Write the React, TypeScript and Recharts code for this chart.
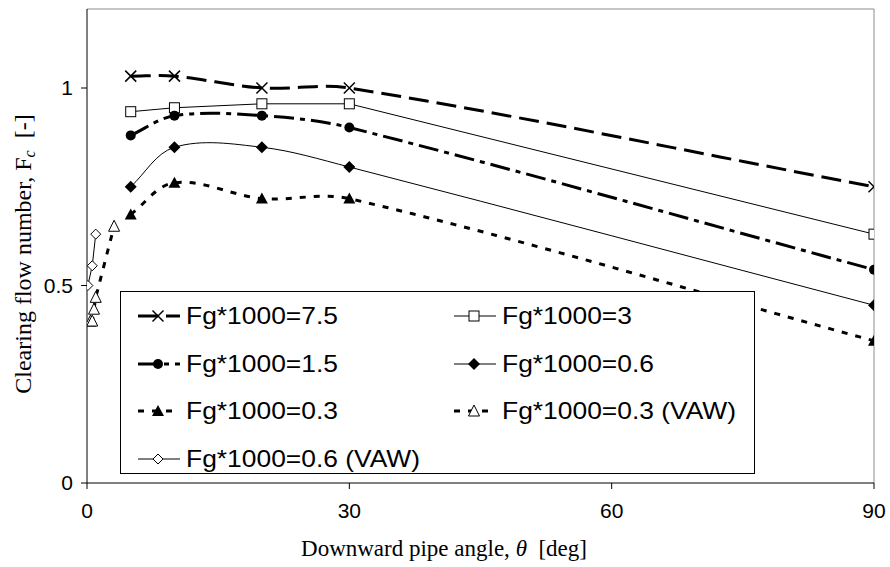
import React from 'react';
import { LineChart, Line, XAxis, YAxis, ReferenceLine, Label } from 'recharts';

// values (angle in deg, clearing flow number Fc)
const ANGLES_MAIN = [5, 10, 20, 30, 90];
const FC_7_5 = [1.03, 1.03, 1.0, 1.0, 0.75];
const FC_3 = [0.94, 0.95, 0.96, 0.96, 0.63];
const FC_1_5 = [0.88, 0.93, 0.93, 0.9, 0.54];
const FC_0_6 = [0.75, 0.85, 0.85, 0.8, 0.45];
const FC_0_3 = [0.68, 0.76, 0.72, 0.72, 0.36];
const ANGLES_VAW_0_3 = [0.4, 0.6, 0.8, 1.0, 3.1];
const FC_VAW_0_3 = [0.41, 0.41, 0.44, 0.47, 0.65];
const ANGLES_VAW_0_6 = [0.1, 0.6, 1.0];
const FC_VAW_0_6 = [0.5, 0.55, 0.63];

const X_TICKS = [0, 30, 60, 90];
const Y_TICKS = [0, 0.5, 1];

const SANS = '"Liberation Sans", Arial, sans-serif';
const SERIF = '"Liberation Serif", "Times New Roman", serif';

// Excel-like smoothed line: cubic pieces, tangent along the neighbours,
// handle length a third of the segment so uneven spacing doesn't overshoot
const excelSmooth = (context: any) => {
  let xs: number[] = [];
  let ys: number[] = [];
  const handle = (i: number, len: number, sign: number) => {
    const n = xs.length;
    const a = Math.max(0, i - 1);
    const b = Math.min(n - 1, i + 1);
    const dx = xs[b] - xs[a];
    const dy = ys[b] - ys[a];
    const d = Math.hypot(dx, dy) || 1;
    return [xs[i] + (sign * dx * len) / (3 * d), ys[i] + (sign * dy * len) / (3 * d)];
  };
  return {
    areaStart() {},
    areaEnd() {},
    lineStart() {
      xs = [];
      ys = [];
    },
    point(x: number, y: number) {
      xs.push(+x);
      ys.push(+y);
    },
    lineEnd() {
      const n = xs.length;
      if (!n) return;
      context.moveTo(xs[0], ys[0]);
      for (let i = 0; i < n - 1; i++) {
        const len = Math.hypot(xs[i + 1] - xs[i], ys[i + 1] - ys[i]);
        const [c1x, c1y] = handle(i, len, 1);
        const [c2x, c2y] = handle(i + 1, len, -1);
        context.bezierCurveTo(c1x, c1y, c2x, c2y, xs[i + 1], ys[i + 1]);
      }
    },
  };
};

type Shape = 'x' | 'square' | 'circle' | 'diamond' | 'diamondOpen' | 'triangle' | 'triangleOpen';

const SERIES: {
  name: string;
  xs: number[];
  ys: number[];
  shape: Shape;
  width: number;
  dash?: string;
  smooth: boolean;
}[] = [
  { name: 'Fg*1000=7.5', xs: ANGLES_MAIN, ys: FC_7_5, shape: 'x', width: 3, dash: '20 8', smooth: true },
  { name: 'Fg*1000=3', xs: ANGLES_MAIN, ys: FC_3, shape: 'square', width: 1, smooth: false },
  { name: 'Fg*1000=1.5', xs: ANGLES_MAIN, ys: FC_1_5, shape: 'circle', width: 3, dash: '20 6 5 6', smooth: true },
  { name: 'Fg*1000=0.6', xs: ANGLES_MAIN, ys: FC_0_6, shape: 'diamond', width: 1, smooth: true },
  { name: 'Fg*1000=0.3', xs: ANGLES_MAIN, ys: FC_0_3, shape: 'triangle', width: 3, dash: '6 8', smooth: true },
  { name: 'Fg*1000=0.3 (VAW)', xs: ANGLES_VAW_0_3, ys: FC_VAW_0_3, shape: 'triangleOpen', width: 3, dash: '6 8', smooth: false },
  { name: 'Fg*1000=0.6 (VAW)', xs: ANGLES_VAW_0_6, ys: FC_VAW_0_6, shape: 'diamondOpen', width: 1, smooth: false },
];

const Marker = ({ shape, cx, cy }: { shape: Shape; cx: number; cy: number }) => {
  switch (shape) {
    case 'x':
      return (
        <g stroke="#000" strokeWidth={1.5}>
          <line x1={cx - 5.5} y1={cy - 5.5} x2={cx + 5.5} y2={cy + 5.5} />
          <line x1={cx - 5.5} y1={cy + 5.5} x2={cx + 5.5} y2={cy - 5.5} />
        </g>
      );
    case 'square':
      return <rect x={cx - 5} y={cy - 5} width={10} height={10} fill="#fff" stroke="#000" strokeWidth={1} />;
    case 'circle':
      return <circle cx={cx} cy={cy} r={5} fill="#000" />;
    case 'diamond':
      return <path d={`M${cx},${cy - 6}L${cx + 6},${cy}L${cx},${cy + 6}L${cx - 6},${cy}Z`} fill="#000" />;
    case 'diamondOpen':
      return (
        <path
          d={`M${cx},${cy - 5}L${cx + 5},${cy}L${cx},${cy + 5}L${cx - 5},${cy}Z`}
          fill="#fff"
          stroke="#000"
          strokeWidth={1}
        />
      );
    case 'triangle':
      return <path d={`M${cx},${cy - 6}L${cx + 6},${cy + 5}L${cx - 6},${cy + 5}Z`} fill="#000" />;
    case 'triangleOpen':
      return (
        <path
          d={`M${cx},${cy - 6}L${cx + 5.5},${cy + 5}L${cx - 5.5},${cy + 5}Z`}
          fill="#fff"
          stroke="#000"
          strokeWidth={1}
        />
      );
  }
  return null;
};

const LegendBox = () => (
  <div
    style={{
      position: 'absolute',
      left: 120,
      top: 291,
      width: 633,
      height: 181,
      border: '1px solid #000',
      background: '#fff',
      fontFamily: SANS,
      fontSize: 24,
      color: '#000',
    }}
  >
    {SERIES.map((s, i) => {
      const row = Math.floor(i / 2);
      const col = i % 2;
      const top = 24 + row * 47.5;
      const left = 17 + col * 316;
      return (
        <div key={s.name} style={{ position: 'absolute', left, top: top - 14, height: 28, display: 'flex', alignItems: 'center' }}>
          <svg width={44} height={28} style={{ display: 'block' }}>
            <line x1={0} y1={14} x2={42} y2={14} stroke="#000" strokeWidth={s.width} strokeDasharray={s.dash} />
            <Marker shape={s.shape} cx={20} cy={14} />
          </svg>
          <span
            style={{
              marginLeft: 4,
              whiteSpace: 'nowrap',
              lineHeight: '28px',
              display: 'inline-block',
              transform: 'scaleX(1.1)',
              transformOrigin: 'left center',
            }}
          >
            {s.name}
          </span>
        </div>
      );
    })}
  </div>
);

export default function App() {
  return (
    <div style={{ position: 'absolute', left: 0, top: 0, width: 890, height: 567, background: '#fff' }}>
      <LineChart width={890} height={567} margin={{ top: 9, right: 16, bottom: 0, left: 0 }}>
        <ReferenceLine y={1.2} stroke="#8c8c8c" strokeWidth={1} />
        <ReferenceLine x={90} stroke="#8c8c8c" strokeWidth={1} />
        <XAxis
          type="number"
          dataKey="x"
          domain={[0, 90]}
          ticks={X_TICKS}
          allowDataOverflow
          height={84}
          axisLine={{ stroke: '#000', strokeWidth: 1 }}
          tickLine={{ stroke: '#000', strokeWidth: 1 }}
          tickSize={6}
          tickMargin={14}
          tick={{ fill: '#000', fontSize: 21, fontFamily: SANS }}
        >
          <Label
            content={() => (
              <text x={444} y={556} textAnchor="middle" fontFamily={SERIF} fontSize={23} fill="#000">
                Downward pipe angle, <tspan fontStyle="italic">θ</tspan>
                {'\u00a0 [deg]'}
              </text>
            )}
          />
        </XAxis>
        <YAxis
          type="number"
          domain={[0, 1.2]}
          ticks={Y_TICKS}
          allowDataOverflow
          width={87}
          axisLine={{ stroke: '#000', strokeWidth: 1 }}
          tickLine={{ stroke: '#000', strokeWidth: 1 }}
          tickSize={6}
          tickMargin={8}
          tickFormatter={(v: number) => String(v)}
          tick={{ fill: '#000', fontSize: 21, fontFamily: SANS }}
        >
          <Label
            content={() => (
              <text
                x={31}
                y={254}
                transform="rotate(-90 31 254)"
                textAnchor="middle"
                fontFamily={SERIF}
                fontSize={24}
                fill="#000"
              >
                Clearing flow number, F
                <tspan fontStyle="italic" fontSize={16} dy={4}>c</tspan>
                <tspan dy={-4}>{'\u00a0 [-]'}</tspan>
              </text>
            )}
          />
        </YAxis>
        {SERIES.map((s) => (
          <Line
            key={s.name}
            data={s.xs.map((x, i) => ({ x, y: s.ys[i] }))}
            dataKey="y"
            name={s.name}
            type={s.smooth ? (excelSmooth as any) : 'linear'}
            stroke="#000"
            strokeWidth={s.width}
            strokeDasharray={s.dash}
            isAnimationActive={false}
            activeDot={false}
            dot={(p: any) => <Marker key={`${s.name}-${p.index}`} shape={s.shape} cx={p.cx} cy={p.cy} />}
          />
        ))}
      </LineChart>
      <LegendBox />
    </div>
  );
}
